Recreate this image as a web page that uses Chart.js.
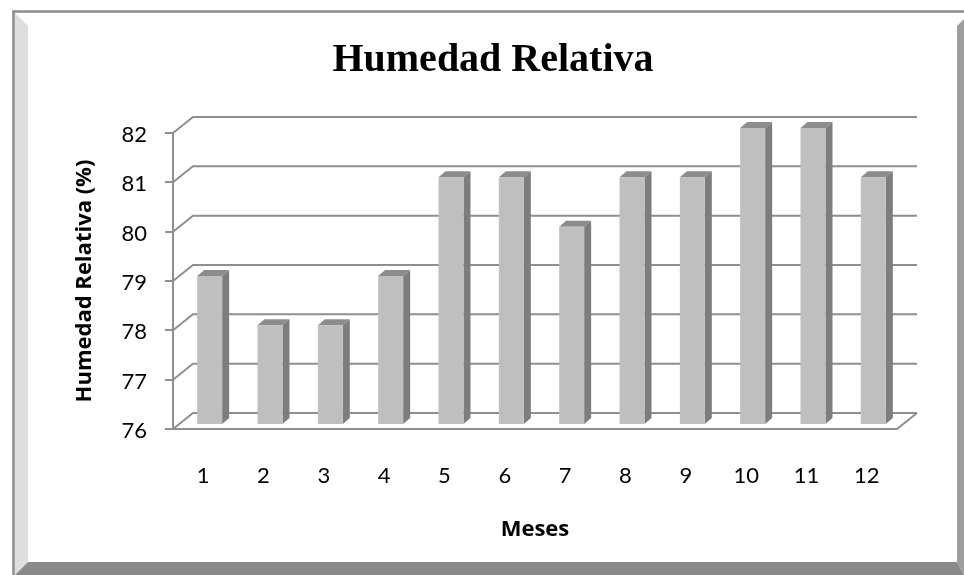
<!DOCTYPE html>
<html>
<head>
<meta charset="utf-8">
<style>
  html, body { margin: 0; padding: 0; background: #fff; }
  #wrap { width: 964px; height: 575px; }
</style>
<script src="https://cdn.jsdelivr.net/npm/chart.js@4"></script>
</head>
<body>
<div id="wrap"><canvas id="humedadChart" width="964" height="575"></canvas></div>
<script>
const meses = ['1', '2', '3', '4', '5', '6', '7', '8', '9', '10', '11', '12'];
const humedad = [79, 78, 78, 79, 81, 81, 80, 81, 81, 82, 82, 81];
const yMin = 76;
const yMax = 82;

const LINE = '#8f8f8f';
const depthX = 20, depthY = 16;   // back wall offset of the fake 3D box
const barX = 6.5, barY = 5;       // bars stand a bit inside the box
const sideX = 7, sideY = 6;       // bar depth

function poly(ctx, pts, fill) {
  ctx.beginPath();
  pts.forEach((p, i) => i ? ctx.lineTo(p[0], p[1]) : ctx.moveTo(p[0], p[1]));
  ctx.closePath();
  ctx.fillStyle = fill;
  ctx.fill();
}

// bevelled frame round the whole chart
const framePlugin = {
  id: 'frame',
  afterLayout(chart) {
    // title sits centred on 493, not on the plot
    chart.titleBlock.left = 0;
    chart.titleBlock.right = 986;
  },
  beforeDraw(chart) {
    const ctx = chart.ctx;
    ctx.save();
    poly(ctx, [[15, 13], [28, 26], [28, 562], [15, 575]], '#dedede');
    poly(ctx, [[957, 26], [964, 19], [964, 575], [957, 562]], '#9e9e9e');
    poly(ctx, [[28, 562], [957, 562], [964, 575], [15, 575]], '#8a8a8a');
    ctx.strokeStyle = '#8c8c8c';
    ctx.lineWidth = 2.5;
    ctx.beginPath();
    ctx.moveTo(13.5, 575);
    ctx.lineTo(13.5, 11.5);
    ctx.lineTo(964, 11.5);
    ctx.stroke();
    ctx.restore();
  }
};

// back wall, left wall and floor lines, hung on the y scale
const wallPlugin = {
  id: 'walls',
  beforeDatasetsDraw(chart) {
    const ctx = chart.ctx;
    const { left, right } = chart.chartArea;
    const y = chart.scales.y;
    ctx.save();
    ctx.strokeStyle = LINE;
    ctx.lineWidth = 2;
    y.ticks.forEach(t => {
      const py = y.getPixelForValue(t.value);
      ctx.beginPath();
      ctx.moveTo(left, py);
      ctx.lineTo(left + depthX, py - depthY);
      ctx.lineTo(right + depthX, py - depthY);
      ctx.stroke();
    });
    const py = y.getPixelForValue(yMin);
    ctx.beginPath();
    ctx.moveTo(left, py);
    ctx.lineTo(right, py);
    ctx.lineTo(right + depthX, py - depthY);
    ctx.stroke();
    ctx.restore();
  },
  beforeDatasetDraw(chart) {
    const ctx = chart.ctx;
    const meta = chart.getDatasetMeta(0);
    const floor = chart.scales.y.getPixelForValue(yMin);
    ctx.save();
    ctx.translate(barX, -barY);
    meta.data.forEach(bar => {
      const hw = bar.width / 2;
      poly(ctx, [[bar.x + hw, bar.y], [bar.x + hw + sideX, bar.y - sideY],
        [bar.x + hw + sideX, floor - sideY], [bar.x + hw, floor]], '#7d7d7d');
      poly(ctx, [[bar.x - hw, bar.y], [bar.x - hw + sideX, bar.y - sideY],
        [bar.x + hw + sideX, bar.y - sideY], [bar.x + hw, bar.y]], '#8c8c8c');
    });
  },
  afterDatasetDraw(chart) {
    chart.ctx.restore();
  }
};

new Chart(document.getElementById('humedadChart'), {
  type: 'bar',
  data: {
    labels: meses,
    datasets: [{
      label: 'Humedad Relativa',
      data: humedad,
      backgroundColor: '#bfbfbf',
      barPercentage: 0.414,
      categoryPercentage: 1
    }]
  },
  options: {
    responsive: false,
    animation: false,
    layout: { padding: { left: 0, right: 67, top: 0, bottom: 0 } },
    plugins: {
      legend: { display: false },
      tooltip: { enabled: false },
      title: {
        display: true,
        text: 'Humedad Relativa',
        color: '#000',
        font: { family: '"Liberation Serif"', size: 40, weight: 'bold', lineHeight: 1.2 },
        align: 'center',
        padding: { top: 37, bottom: 48 }
      }
    },
    scales: {
      x: {
        afterFit(s) { s.height = 146; },
        grid: { display: false },
        border: { display: false },
        ticks: { color: '#000', font: { family: 'Lato', size: 22 }, padding: 26, maxRotation: 0 },
        title: {
          display: true,
          text: 'Meses',
          color: '#000',
          font: { family: '"Open Sans"', size: 22, weight: 'bold' },
          padding: { top: 0, bottom: 32 }
        }
      },
      y: {
        afterFit(s) { s.width = 173; },
        min: yMin,
        max: yMax,
        ticks: { stepSize: 1, color: '#000', font: { family: 'Lato', size: 22 }, padding: 18, labelOffset: 2 },
        grid: { drawOnChartArea: false, color: LINE, lineWidth: 2, tickLength: 8 },
        border: { color: LINE, width: 2 },
        title: {
          display: true,
          text: 'Humedad Relativa (%)',
          color: '#000',
          font: { family: '"Open Sans"', size: 22, weight: 'bold' },
          padding: { top: 72, bottom: 0 }
        }
      }
    }
  },
  plugins: [framePlugin, wallPlugin]
});
</script>
</body>
</html>
